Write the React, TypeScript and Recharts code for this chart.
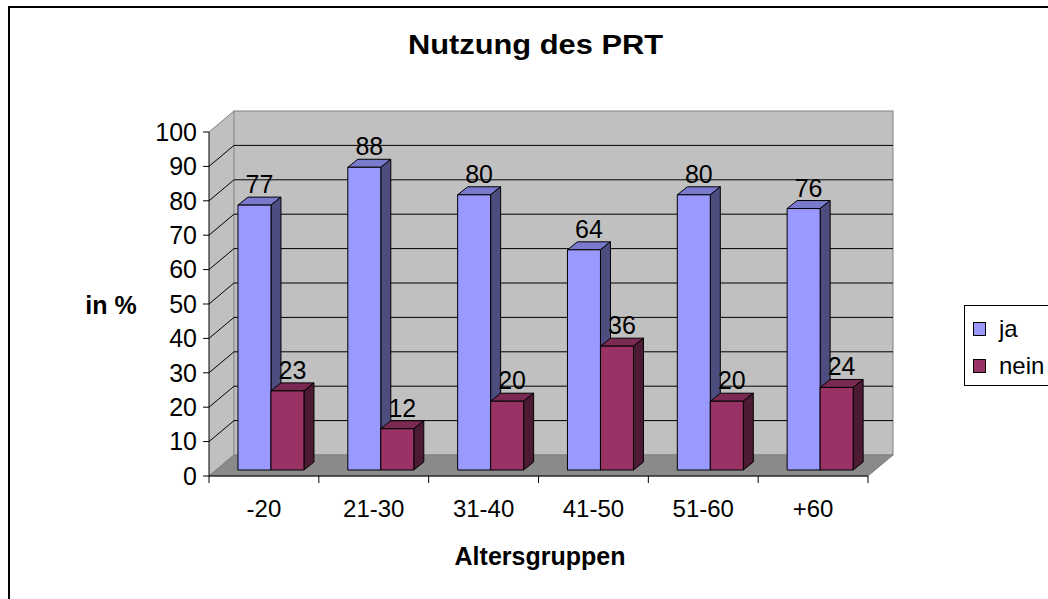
import React from 'react';
import { BarChart, Bar, XAxis, YAxis, CartesianGrid, Legend, LabelList } from 'recharts';

const categories = ['-20', '21-30', '31-40', '41-50', '51-60', '+60'];
const jaValues = [77, 88, 80, 64, 80, 76];
const neinValues = [23, 12, 20, 36, 20, 24];
const yTicks = [0, 10, 20, 30, 40, 50, 60, 70, 80, 90, 100];
const seriesNames = ['ja', 'nein'];
const chartTitle = 'Nutzung des PRT';
const yTitle = 'in %';
const xTitle = 'Altersgruppen';

const data = categories.map((cat, i) => ({ cat, ja: jaValues[i], nein: neinValues[i] }));

const FONT = '"Liberation Sans", Arial, Helvetica, sans-serif';
const W = 1048;
const H = 599;
const PLOT_L = 209;
const PLOT_R = 868;
const PLOT_T = 132;
const PLOT_B = 476;
const DX = 25;
const DY = -21;
const BX = 7;
const BY = -6;
const BDX = 10;
const BDY = -8;
const Y_AXIS_W = 80;
const X_AXIS_H = 60;
const CAT_W = (PLOT_R - PLOT_L) / categories.length;

const COLORS: Record<string, { front: string; top: string; side: string }> = {
  ja: { front: '#9999FF', top: '#7A7ACC', side: '#4D4D80' },
  nein: { front: '#993366', top: '#7A2952', side: '#4D1A33' },
};

function make3DShape(c: { front: string; top: string; side: string }) {
  return (props: any) => {
    const { x, y, width, height } = props;
    if (x == null || y == null || width == null || height == null) return <g />;
    const fx = x + BX;
    const fy = y + BY;
    const s = { stroke: '#000', strokeWidth: 1, strokeLinejoin: 'round' as const };
    return (
      <g>
        <polygon
          points={`${fx},${fy} ${fx + BDX},${fy + BDY} ${fx + width + BDX},${fy + BDY} ${fx + width},${fy}`}
          fill={c.top}
          {...s}
        />
        <polygon
          points={`${fx + width},${fy} ${fx + width + BDX},${fy + BDY} ${fx + width + BDX},${fy + height + BDY} ${fx + width},${fy + height}`}
          fill={c.side}
          {...s}
        />
        <rect x={fx} y={fy} width={width} height={height} fill={c.front} {...s} />
      </g>
    );
  };
}

const renderValueLabel = (props: any) => {
  const vb = props.viewBox || {};
  const x = props.x ?? vb.x;
  const y = props.y ?? vb.y;
  const width = props.width ?? vb.width;
  return (
    <text
      x={x + width / 2 + BX + BDX / 2}
      y={y + BY + BDY - 4}
      textAnchor="middle"
      fontSize={25}
      fontFamily={FONT}
      fill="#000"
    >
      {props.value}
    </text>
  );
};

const renderGridLine = (props: any) => {
  const { y1 } = props;
  const isTop = Math.abs(y1 - PLOT_T) < 1;
  const isBottom = Math.abs(y1 - PLOT_B) < 1;
  const diagColor = isTop || isBottom ? '#808080' : '#000';
  return (
    <g key={`hg-${y1}`}>
      <line x1={PLOT_L} y1={y1} x2={PLOT_L + DX} y2={y1 + DY} stroke={diagColor} strokeWidth={1} />
      {!isTop && !isBottom && (
        <line x1={PLOT_L + DX} y1={y1 + DY} x2={PLOT_R + DX} y2={y1 + DY} stroke="#000" strokeWidth={1} />
      )}
    </g>
  );
};

const XTick = (props: any) => {
  const { x, payload } = props;
  const isLast = payload && payload.value === categories[categories.length - 1];
  return (
    <g>
      <line x1={x - CAT_W / 2} y1={PLOT_B} x2={x - CAT_W / 2} y2={PLOT_B + 7} stroke="#000" />
      {isLast && <line x1={x + CAT_W / 2} y1={PLOT_B} x2={x + CAT_W / 2} y2={PLOT_B + 7} stroke="#000" />}
      <text x={x} y={PLOT_B + 41} textAnchor="middle" fontSize={24} fontFamily={FONT} fill="#000">
        {payload.value}
      </text>
    </g>
  );
};

const LegendBox = (p: any) => {
  const items =
    p && p.payload && p.payload.length
      ? p.payload.map((e: any) => ({ name: String(e.value), color: e.color }))
      : seriesNames.map((n) => ({ name: n, color: COLORS[n].front }));
  return (
    <div
      style={{
        position: 'relative',
        boxSizing: 'border-box',
        width: 110,
        height: 81,
        border: '1px solid #000',
        background: '#fff',
        fontFamily: FONT,
        fontSize: 24,
        color: '#000',
      }}
    >
      {items.map((it: any, i: number) => (
        <div key={it.name} style={{ position: 'absolute', left: 8, top: 8 + i * 37, height: 30, display: 'flex', alignItems: 'center' }}>
          <div style={{ width: 11, height: 12, background: it.color, border: '1px solid #000', marginRight: 13 }} />
          <span style={{ lineHeight: '30px' }}>{it.name}</span>
        </div>
      ))}
    </div>
  );
};

export default function App() {
  const wallL = PLOT_L + DX;
  const wallR = PLOT_R + DX;
  const wallT = PLOT_T + DY;
  const wallB = PLOT_B + DY;
  return (
    <div style={{ position: 'absolute', left: 0, top: 0, width: W, height: H, overflow: 'hidden', background: '#fff' }}>
      <svg width={W} height={H} style={{ position: 'absolute', left: 0, top: 0 }}>
        <rect x={9} y={7} width={W + 50} height={H + 50} fill="#fff" stroke="#000" strokeWidth={2} />
        <polygon
          points={`${PLOT_L},${PLOT_B} ${PLOT_L},${PLOT_T} ${wallL},${wallT} ${wallL},${wallB}`}
          fill="#C0C0C0"
        />
        <rect x={wallL} y={wallT} width={wallR - wallL} height={wallB - wallT} fill="#C0C0C0" stroke="#808080" strokeWidth={1} />
        <polygon
          points={`${PLOT_L},${PLOT_B} ${PLOT_R},${PLOT_B} ${wallR},${wallB} ${wallL},${wallB}`}
          fill="#8A8A8A"
          stroke="#808080"
          strokeWidth={1}
        />
        <text
          x={535.5}
          y={54}
          textAnchor="middle"
          fontSize={27}
          fontWeight="bold"
          fontFamily={FONT}
          fill="#000"
          textLength={255}
          lengthAdjust="spacingAndGlyphs"
        >
          {chartTitle}
        </text>
        <text x={111} y={314} textAnchor="middle" fontSize={25} fontWeight="bold" fontFamily={FONT} fill="#000">
          {yTitle}
        </text>
        <text x={540} y={565} textAnchor="middle" fontSize={25} fontWeight="bold" fontFamily={FONT} fill="#000">
          {xTitle}
        </text>
      </svg>
      <div style={{ position: 'absolute', left: 0, top: 0 }}>
        <BarChart
          width={W}
          height={H}
          data={data}
          margin={{ top: PLOT_T, left: PLOT_L - Y_AXIS_W, right: W - PLOT_R, bottom: H - PLOT_B - X_AXIS_H }}
          barCategoryGap="20%"
          barGap={0}
        >
          <CartesianGrid vertical={false} horizontal={renderGridLine} fill="none" />
          <XAxis
            dataKey="cat"
            height={X_AXIS_H}
            interval={0}
            tickLine={false}
            axisLine={{ stroke: '#000', strokeWidth: 1 }}
            tick={<XTick />}
          />
          <YAxis
            width={Y_AXIS_W}
            domain={[0, 100]}
            ticks={yTicks}
            interval={0}
            tickSize={6}
            tickMargin={6}
            axisLine={{ stroke: '#000', strokeWidth: 1 }}
            tickLine={{ stroke: '#000', strokeWidth: 1 }}
            tick={{ fontSize: 25, fill: '#000', fontFamily: FONT }}
          />
          <Legend
            layout="vertical"
            align="center"
            verticalAlign="middle"
            wrapperStyle={{ left: 964, top: 305, width: 110, height: 81 }}
            content={<LegendBox />}
          />
          <Bar dataKey="ja" name="ja" fill={COLORS.ja.front} isAnimationActive={false} shape={make3DShape(COLORS.ja)}>
            <LabelList dataKey="ja" content={renderValueLabel} />
          </Bar>
          <Bar dataKey="nein" name="nein" fill={COLORS.nein.front} isAnimationActive={false} shape={make3DShape(COLORS.nein)}>
            <LabelList dataKey="nein" content={renderValueLabel} />
          </Bar>
        </BarChart>
      </div>
    </div>
  );
}
